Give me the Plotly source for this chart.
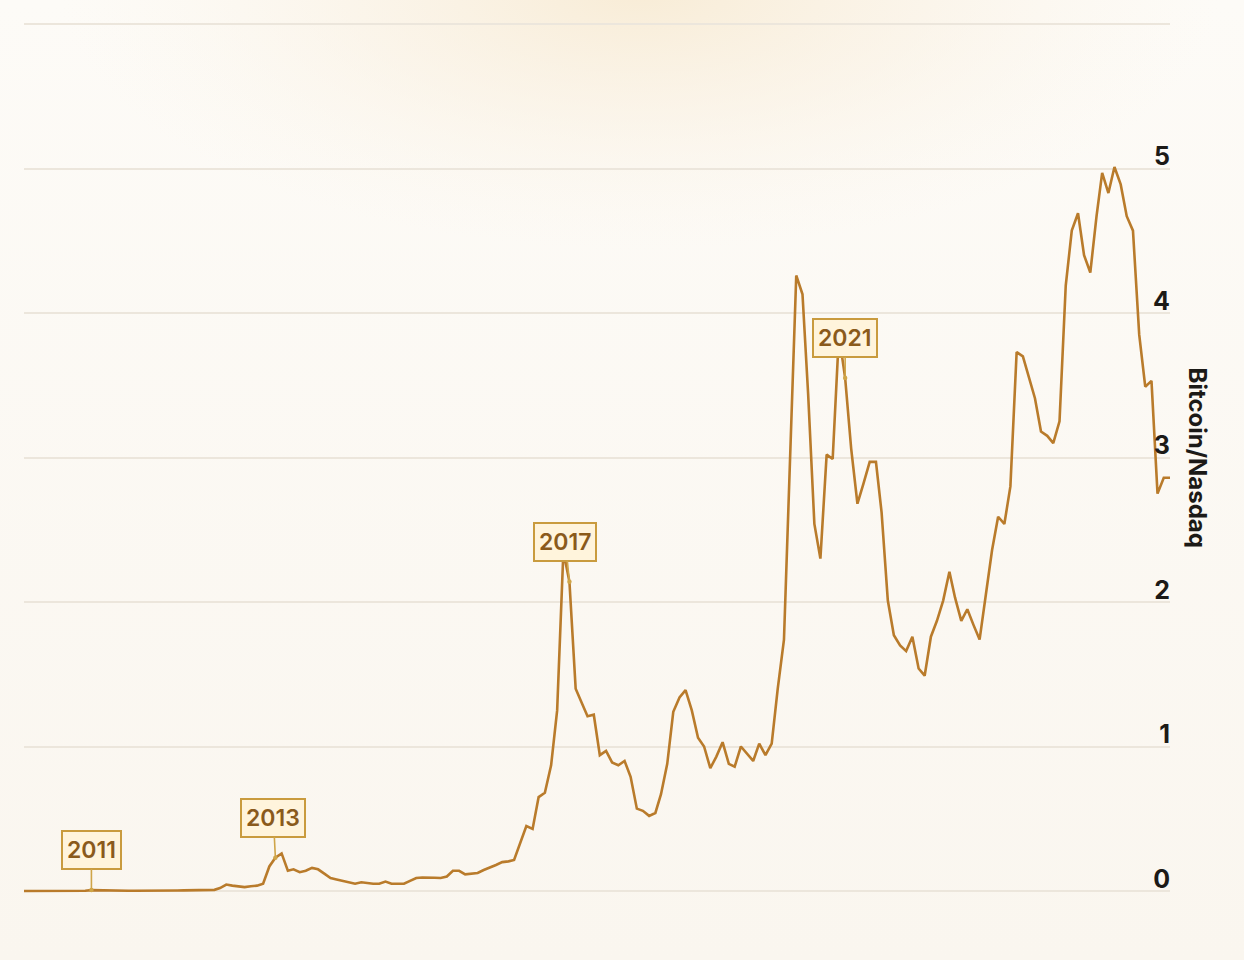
import base64
import pandas as pd
import plotly.graph_objects as go

# ---- data (monthly Bitcoin / Nasdaq ratio) ----
start_month = "2010-07-01"
ratio = [
    0.00003, 0.00003, 0.00003, 0.00004, 0.0001, 0.0001, 0.00015, 0.0003, 0.0003, 0.00036,
    0.0018, 0.0063, 0.005, 0.004, 0.002, 0.0013, 0.0009, 0.0013, 0.0022, 0.0017,
    0.0017, 0.0017, 0.0017, 0.0023, 0.0027, 0.0037, 0.004, 0.0039, 0.0037, 0.0045,
    0.005,
    0.008, 0.02, 0.045, 0.037, 0.03, 0.027, 0.033, 0.037, 0.05, 0.17,
    0.23, 0.26, 0.14, 0.15, 0.13, 0.14, 0.16, 0.15, 0.12, 0.09,
    0.08, 0.07, 0.06, 0.05, 0.06, 0.055, 0.05, 0.05, 0.065, 0.05,
    0.05, 0.05, 0.07, 0.09, 0.093, 0.095, 0.092, 0.09, 0.10, 0.14,
    0.14, 0.115, 0.12, 0.125, 0.145, 0.16, 0.18, 0.20, 0.205, 0.215,
    0.33, 0.45, 0.43, 0.65, 0.68, 0.87, 1.25, 2.35, 2.14, 1.40,
    1.30, 1.21, 1.22, 0.94, 0.97, 0.89, 0.87, 0.90, 0.79, 0.57,
    0.555, 0.52, 0.54, 0.67, 0.88, 1.24, 1.34, 1.39, 1.25, 1.06,
    1.00, 0.85, 0.93, 1.03, 0.88, 0.86, 1.00, 0.95, 0.90, 1.02,
    0.94, 1.02, 1.40, 1.74, 2.98, 4.26, 4.13, 3.44, 2.54, 2.30,
    3.02, 2.99, 3.85, 3.55, 3.06, 2.68, 2.82, 2.97, 2.97, 2.62,
    2.01, 1.77, 1.70, 1.66, 1.76, 1.54, 1.49, 1.76, 1.87, 2.01,
    2.21, 2.03, 1.87, 1.95, 1.84, 1.74, 2.05, 2.36, 2.59, 2.54,
    2.80, 3.73, 3.70, 3.56, 3.41, 3.18, 3.15, 3.10, 3.25, 4.19,
    4.57, 4.69, 4.40, 4.28, 4.67, 4.97, 4.83, 5.01, 4.89, 4.67,
    4.57, 3.85, 3.49, 3.53, 2.75, 2.86, 2.86,
]
dates = pd.date_range(start_month, periods=len(ratio), freq="MS")

label_years = ["2011", "2013", "2017", "2021"]
label_index = [11, 41, 89, 134]
label_shift = [0, -2, -4, 0]

tick_values = [0, 1, 2, 3, 4, 5, 6]
tick_labels = ["0", "1", "2", "3", "4", "5", ""]
axis_title = "Bitcoin/Nasdaq"

# ---- layout geometry ----
W, H = 1244, 960
ml, mr, mt, mb = 24, 74, 22, 18
pw, ph = W - ml - mr, H - mt - mb
PX_PER_UNIT = 144.5
y_top = 6 + 2 / PX_PER_UNIT          # keep the top (6) gridline just inside
y_bottom = y_top - ph / PX_PER_UNIT

LINE = "#B97B2B"
GRID = "#ECE6DC"
INK = "#1C1A17"
BASE = "#FCF9F3"

# background: soft cream with warm glow at top centre
svg = f'''<svg xmlns="http://www.w3.org/2000/svg" width="{W}" height="{H}" viewBox="0 0 {W} {H}">
<defs>
<linearGradient id="b" x1="0" y1="0" x2="0" y2="1">
<stop offset="0" stop-color="#FDFBF7"/><stop offset="1" stop-color="#FAF6EF"/>
</linearGradient>
<radialGradient id="g" gradientUnits="userSpaceOnUse" cx="0" cy="0" r="1"
 gradientTransform="translate(640,-10) scale(580,260)">
<stop offset="0" stop-color="#F8ECD6" stop-opacity="1"/>
<stop offset="0.5" stop-color="#F9EFDE" stop-opacity="0.5"/>
<stop offset="1" stop-color="#FBF5EA" stop-opacity="0"/>
</radialGradient>
</defs>
<rect width="{W}" height="{H}" fill="url(#b)"/>
<rect width="{W}" height="{H}" fill="url(#g)"/>
</svg>'''
bg_src = "data:image/svg+xml;base64," + base64.b64encode(svg.encode()).decode()

fig = go.Figure()
fig.add_trace(go.Scatter(
    x=dates, y=ratio, mode="lines",
    line=dict(color=LINE, width=2.6),
    hoverinfo="x+y", showlegend=False,
))

annotations = []
for yr, idx, sh in zip(label_years, label_index, label_shift):
    annotations.append(dict(
        x=dates[idx], y=ratio[idx], xref="x", yref="y",
        text=yr, showarrow=True, ax=sh, ay=-40,
        arrowhead=6, arrowsize=0.7, arrowwidth=1.6, arrowcolor="#CFA548",
        standoff=0, startstandoff=0,
        bordercolor="#C99B3E", borderwidth=2, borderpad=4, bgcolor="#FFF4DC",
        font=dict(family="Inter", size=23, color="#8A5A1B", weight=600),
    ))
annotations.append(dict(
    text=axis_title, xref="paper", yref="y", x=1, y=3.0,
    xanchor="center", yanchor="middle", xshift=27, showarrow=False,
    textangle=90, font=dict(family="Inter", size=24, color=INK, weight="bold"),
))

fig.update_layout(
    width=W, height=H,
    margin=dict(l=ml, r=mr, t=mt, b=mb, pad=0),
    paper_bgcolor=BASE,
    plot_bgcolor="rgba(0,0,0,0)",
    images=[dict(
        source=bg_src, xref="paper", yref="paper",
        x=-ml / pw, y=1 + mt / ph, sizex=W / pw, sizey=H / ph,
        xanchor="left", yanchor="top", sizing="stretch", layer="below",
    )],
    xaxis=dict(
        range=[dates[0], dates[-1]], showgrid=False, showticklabels=False,
        zeroline=False, showline=False, ticks="",
    ),
    yaxis=dict(
        range=[y_bottom, y_top],
        tickvals=tick_values, ticktext=tick_labels,
        side="right", ticklabelposition="inside",
        ticklabelshift=-12, ticklabelstandoff=-3,
        showgrid=True, gridcolor=GRID, gridwidth=2,
        zeroline=False, showline=False, ticks="",
        tickfont=dict(family="Inter", size=25, color=INK, weight="bold"),
    ),
    annotations=annotations,
)

fig.write_html(
    "out.html",
    config={"displayModeBar": False},
    post_script=(
        "document.body.style.margin='0';"
        "document.body.style.overflow='hidden';"
        f"document.body.style.background='{BASE}';"
    ),
)
